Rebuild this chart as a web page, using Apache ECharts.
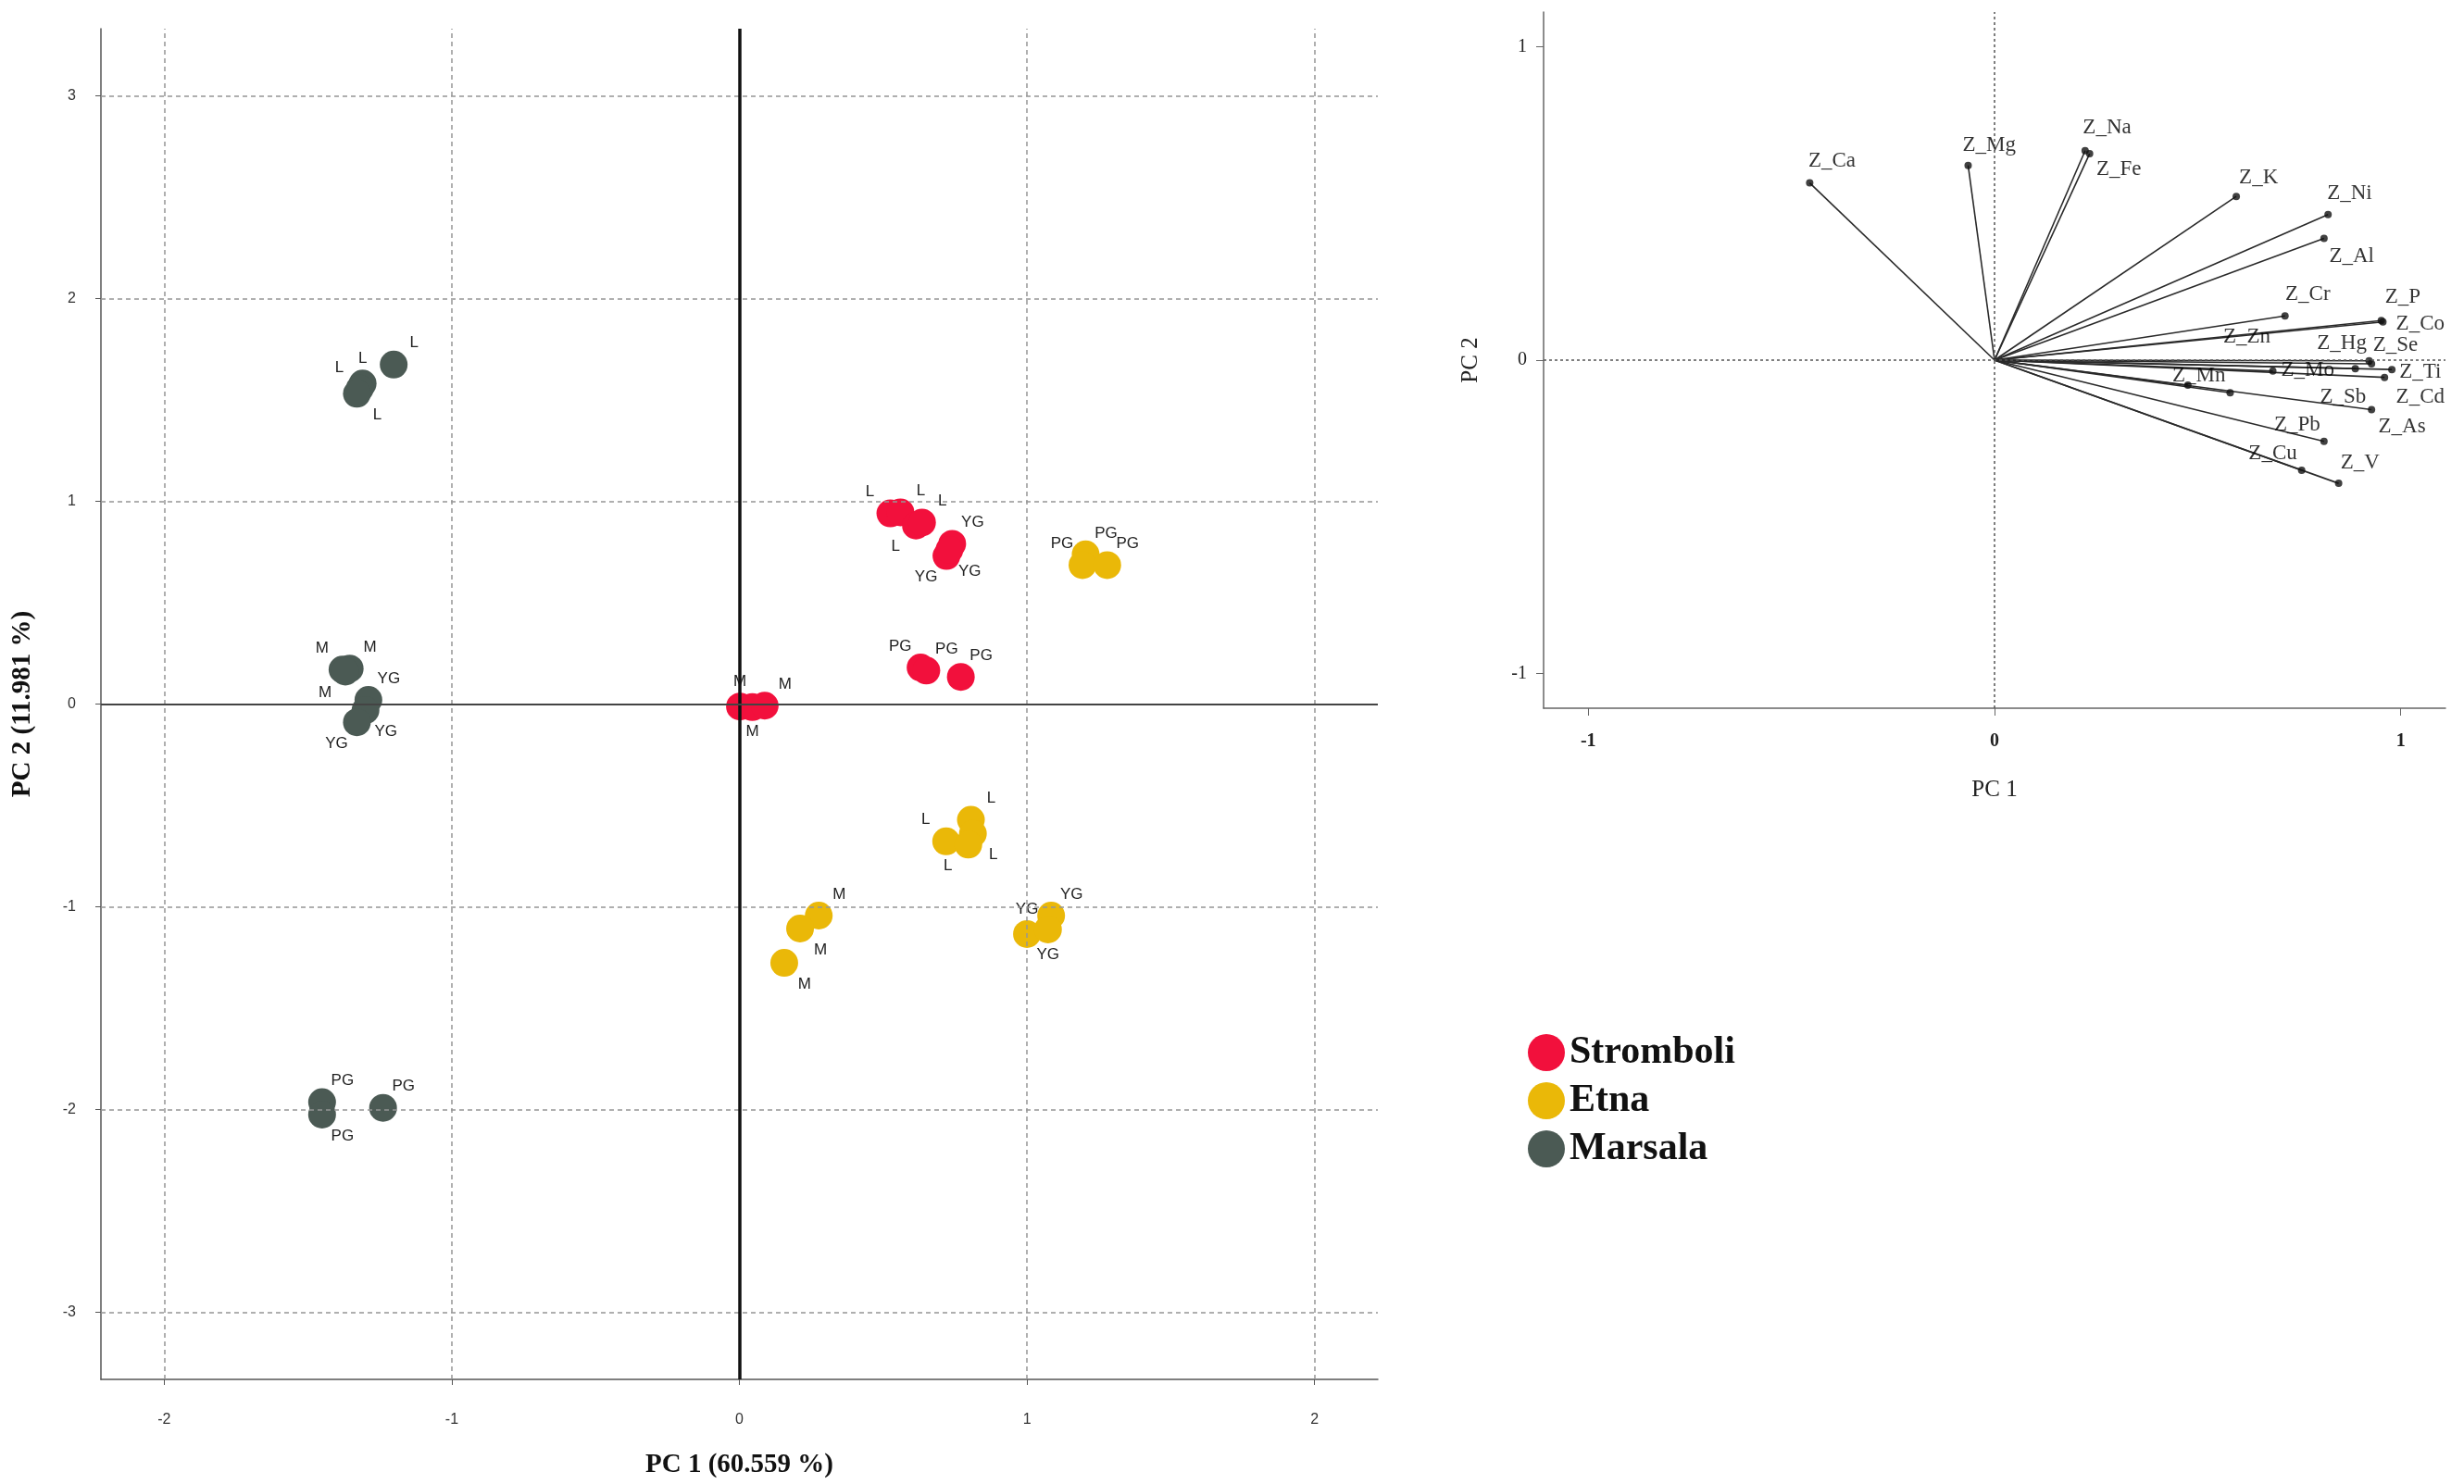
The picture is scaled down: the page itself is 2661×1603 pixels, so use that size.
<!DOCTYPE html>
<html>
<head>
    <meta charset="utf-8">
    <title>PCA scores and loadings</title>
    <script src="https://cdn.jsdelivr.net/npm/echarts/dist/echarts.min.js"></script>
    <style>
        html, body { margin: 0; padding: 0; background: #fff; }
        #main { width: 2661px; height: 1603px; }
    </style>
</head>
<body>
    <div id="main"></div>
    <script type="text/javascript">
        // score plot (left) - PC1 / PC2 per sample, with sample tags
        var strombPC1 = [0.002, 0.045, 0.088, 0.525, 0.56, 0.614, 0.635, 0.74, 0.72, 0.73, 0.63, 0.65, 0.77];
        var strombPC2 = [-0.012, -0.015, -0.008, 0.94, 0.945, 0.88, 0.895, 0.79, 0.73, 0.76, 0.18, 0.165, 0.134];
        var strombTag = ['M', 'M', 'M', 'L', 'L', 'L', 'L', 'YG', 'YG', 'YG', 'PG', 'PG', 'PG'];

        var etnaPC1 = [1.204, 1.193, 1.279, 0.805, 0.719, 0.812, 0.796, 0.276, 0.211, 0.156, 1.084, 1.0, 1.073];
        var etnaPC2 = [0.738, 0.685, 0.685, -0.571, -0.677, -0.639, -0.693, -1.043, -1.107, -1.276, -1.043, -1.134, -1.111];
        var etnaTag = ['PG', 'PG', 'PG', 'L', 'L', 'L', 'L', 'M', 'M', 'M', 'YG', 'YG', 'YG'];

        var marsPC1 = [-1.202, -1.31, -1.32, -1.33, -1.38, -1.355, -1.37, -1.29, -1.30, -1.33, -1.451, -1.451, -1.239];
        var marsPC2 = [1.674, 1.58, 1.555, 1.53, 0.17, 0.175, 0.16, 0.02, -0.03, -0.09, -1.963, -2.024, -1.991];
        var marsTag = ['L', 'L', 'L', 'L', 'M', 'M', 'M', 'YG', 'YG', 'YG', 'PG', 'PG', 'PG'];

        // where each tag sits around its point
        var strombSide = ['n', 's', 'ne', 'nw', 'ne', 'sw', 'ne', 'ne', 'sw', 'se', 'nw', 'ne', 'ne'];
        var etnaSide = ['ne', 'nw', 'ne', 'ne', 'nw', 'se', 'sw', 'ne', 'se', 'se', 'ne', 'n', 's'];
        var marsSide = ['ne', 'n', 'nw', 'se', 'nw', 'ne', 'sw', 'ne', 'se', 'sw', 'ne', 'se', 'ne'];

        var pc1Ticks = [-2, -1, 0, 1, 2];
        var pc2Ticks = [-3, -2, -1, 0, 1, 2, 3];

        // loading plot (right)
        var loadNames = ['Z_Ca', 'Z_Mg', 'Z_Na', 'Z_Fe', 'Z_K', 'Z_Ni', 'Z_Al', 'Z_Cr', 'Z_P', 'Z_Co', 'Z_Zn',
            'Z_Hg', 'Z_Se', 'Z_Mo', 'Z_Ti', 'Z_Mn', 'Z_Sb', 'Z_Cd', 'Z_As', 'Z_Pb', 'Z_Cu', 'Z_V'];
        var loadPC1 = [-0.455, -0.065, 0.223, 0.234, 0.595, 0.821, 0.811, 0.715, 0.952, 0.956, 0.888,
            0.922, 0.928, 0.685, 0.978, 0.476, 0.58, 0.96, 0.928, 0.811, 0.756, 0.847];
        var loadPC2 = [0.565, 0.621, 0.668, 0.658, 0.522, 0.464, 0.388, 0.141, 0.126, 0.122, -0.027,
            -0.002, -0.012, -0.035, -0.03, -0.08, -0.104, -0.055, -0.158, -0.259, -0.351, -0.393];
        // label anchor of each loading, in PC units
        var loadLabPC1 = [-0.40, -0.013, 0.277, 0.306, 0.650, 0.874, 0.879, 0.771, 1.005, 1.048, 0.621,
            0.855, 0.987, 0.771, 1.048, 0.503, 0.858, 1.048, 1.003, 0.745, 0.685, 0.90];
        var loadLabPC2 = [0.634, 0.685, 0.740, 0.607, 0.583, 0.532, 0.332, 0.209, 0.201, 0.116, 0.073,
            0.054, 0.046, -0.031, -0.037, -0.051, -0.119, -0.119, -0.213, -0.207, -0.298, -0.328];
        var loadTicks = [-1, 0, 1];

        var RED = '#f2103c', GOLD = '#eab808', SLATE = '#4b5a54';

        function sideOffset(s) {
            var d = 22, v = 23, n = 27;
            var m = {n: [0, -n], s: [0, n], e: [n, 0], w: [-n, 0],
                ne: [d, -v], nw: [-d, -v], se: [d, v], sw: [-d, v]};
            return m[s];
        }
        function groupData(xs, ys, tags, sides) {
            return xs.map(function (x, i) {
                return {value: [x, ys[i]], name: tags[i], label: {offset: sideOffset(sides[i])}};
            });
        }
        function scoreSeries(name, color, xs, ys, tags, sides) {
            return {
                name: name,
                type: 'scatter',
                xAxisIndex: 0,
                yAxisIndex: 0,
                symbol: 'circle',
                symbolSize: 30,
                z: 3,
                itemStyle: {color: color, opacity: 1},
                label: {
                    show: true,
                    position: 'inside',
                    formatter: '{b}',
                    fontFamily: 'Liberation Sans',
                    fontSize: 17,
                    color: '#222'
                },
                data: groupData(xs, ys, tags, sides)
            };
        }

        var gridDash = {color: '#959595', width: 1.5, type: [5, 4]};

        var myChart = echarts.init(document.getElementById('main'));
        myChart.setOption({
            animation: false,
            backgroundColor: '#fff',
            grid: [
                {left: 109, top: 31, width: 1379, height: 1459, containLabel: false, outerBoundsMode: 'none'},
                {left: 1667, top: 13, width: 974, height: 752, containLabel: false, outerBoundsMode: 'none'}
            ],
            legend: {
                data: ['Stromboli', 'Etna', 'Marsala'],
                orient: 'vertical',
                left: 1645,
                top: 1111,
                itemWidth: 40,
                itemHeight: 40,
                itemGap: 10,
                icon: 'circle',
                textStyle: {
                    fontFamily: 'Liberation Serif',
                    fontWeight: 'bold',
                    fontSize: 42,
                    lineHeight: 40,
                    color: '#111'
                }
            },
            xAxis: [
                {
                    gridIndex: 0, type: 'value', min: -2.22, max: 2.22,
                    splitLine: {show: false},
                    axisLine: {onZero: false, lineStyle: {color: '#555', width: 1.5}},
                    axisTick: {customValues: pc1Ticks, length: 6, lineStyle: {color: '#555'}},
                    axisLabel: {customValues: pc1Ticks, margin: 36, fontFamily: 'Liberation Sans', fontSize: 16, color: '#333'},
                    name: 'PC 1 (60.559 %)', nameLocation: 'middle', nameGap: 78,
                    nameTextStyle: {fontFamily: 'Liberation Serif', fontWeight: 'bold', fontSize: 29, color: '#111'}
                },
                {
                    gridIndex: 1, type: 'value', min: -1.11, max: 1.11,
                    splitLine: {show: false},
                    axisLine: {onZero: false, lineStyle: {color: '#666', width: 1.5}},
                    axisTick: {customValues: loadTicks, length: 8, lineStyle: {color: '#666'}},
                    axisLabel: {customValues: loadTicks, margin: 26, fontFamily: 'Liberation Serif', fontWeight: 'bold', fontSize: 20, color: '#222'},
                    name: 'PC 1', nameLocation: 'middle', nameGap: 76,
                    nameTextStyle: {fontFamily: 'Liberation Serif', fontSize: 25, color: '#222'}
                }
            ],
            yAxis: [
                {
                    gridIndex: 0, type: 'value', min: -3.33, max: 3.33,
                    splitLine: {show: false},
                    axisLine: {onZero: false, lineStyle: {color: '#555', width: 1.5}},
                    axisTick: {customValues: pc2Ticks, length: 6, lineStyle: {color: '#555'}},
                    axisLabel: {customValues: pc2Ticks, margin: 27, fontFamily: 'Liberation Sans', fontSize: 16, color: '#333'},
                    name: 'PC 2 (11.981 %)', nameLocation: 'middle', nameGap: 70, nameRotate: 90,
                    nameTextStyle: {fontFamily: 'Liberation Serif', fontWeight: 'bold', fontSize: 29, color: '#111'}
                },
                {
                    gridIndex: 1, type: 'value', min: -1.11, max: 1.11,
                    splitLine: {show: false},
                    axisLine: {onZero: false, lineStyle: {color: '#666', width: 1.5}},
                    axisTick: {customValues: loadTicks, length: 8, lineStyle: {color: '#666'}},
                    axisLabel: {customValues: loadTicks, margin: 18, fontFamily: 'Liberation Serif', fontSize: 20, color: '#222'},
                    name: 'PC 2', nameLocation: 'middle', nameGap: 66, nameRotate: 90,
                    nameTextStyle: {fontFamily: 'Liberation Serif', fontSize: 25, color: '#222'}
                }
            ],
            series: [
                // dashed grid of the score plot
                {
                    type: 'line', xAxisIndex: 0, yAxisIndex: 0, data: [], z: 1,
                    markLine: {
                        silent: true, symbol: 'none', label: {show: false},
                        lineStyle: gridDash,
                        data: pc1Ticks.filter(function (v) { return v !== 0; }).map(function (v) { return {xAxis: v}; })
                            .concat(pc2Ticks.filter(function (v) { return v !== 0; }).map(function (v) { return {yAxis: v}; }))
                    }
                },
                scoreSeries('Stromboli', RED, strombPC1, strombPC2, strombTag, strombSide),
                scoreSeries('Etna', GOLD, etnaPC1, etnaPC2, etnaTag, etnaSide),
                scoreSeries('Marsala', SLATE, marsPC1, marsPC2, marsTag, marsSide),
                // solid zero lines, drawn over the points
                {
                    type: 'line', xAxisIndex: 0, yAxisIndex: 0, data: [], z: 5,
                    markLine: {
                        silent: true, symbol: 'none', label: {show: false},
                        data: [
                            {xAxis: 0, lineStyle: {color: '#111', width: 3.5, type: 'solid'}},
                            {yAxis: 0, lineStyle: {color: '#444', width: 2.2, type: 'solid'}}
                        ]
                    }
                },
                // dotted zero lines of the loading plot
                {
                    type: 'line', xAxisIndex: 1, yAxisIndex: 1, data: [], z: 1,
                    markLine: {
                        silent: true, symbol: 'none', label: {show: false},
                        lineStyle: {color: '#555', width: 1.5, type: [3, 3]},
                        data: [{xAxis: 0}, {yAxis: 0}]
                    }
                },
                {
                    type: 'lines', coordinateSystem: 'cartesian2d', xAxisIndex: 1, yAxisIndex: 1, z: 2,
                    lineStyle: {color: '#2a2a2a', width: 1.6, opacity: 1},
                    data: loadNames.map(function (n, i) {
                        return {coords: [[0, 0], [loadPC1[i], loadPC2[i]]]};
                    })
                },
                {
                    type: 'scatter', xAxisIndex: 1, yAxisIndex: 1, z: 3,
                    symbolSize: 8, itemStyle: {color: '#111'},
                    data: loadNames.map(function (n, i) { return [loadPC1[i], loadPC2[i]]; })
                },
                {
                    type: 'scatter', xAxisIndex: 1, yAxisIndex: 1, z: 4,
                    symbolSize: 1, itemStyle: {color: 'rgba(0,0,0,0)'},
                    label: {
                        show: true, position: 'inside', formatter: '{b}',
                        fontFamily: 'Liberation Serif', fontSize: 23, color: '#000'
                    },
                    data: loadNames.map(function (n, i) {
                        return {value: [loadLabPC1[i], loadLabPC2[i]], name: n};
                    })
                }
            ]
        });
    </script>
</body>
</html>
